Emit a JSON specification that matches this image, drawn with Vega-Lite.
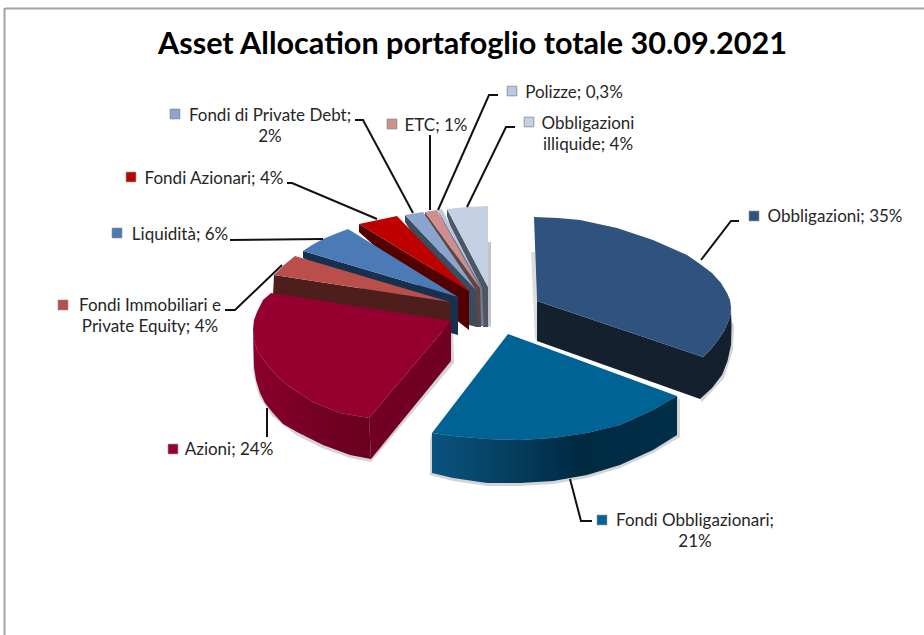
{
"$schema":"https://vega.github.io/schema/vega-lite/v6.json",
"width":924,"height":635,"padding":0,"autosize":{"type":"none"},
"background":"white",
"config":{"view":{"stroke":null}},
"title":{"text":"Asset Allocation portafoglio totale 30.09.2021","font":"Lato","fontSize":30.6,"fontWeight":"bold","color":"#000000","anchor":"start","frame":"group","dx":158,"dy":61,"offset":0},
"datasets":{
"frame":[{"k":"top","x":5,"y":8.5},{"k":"top","x":924,"y":8.5},{"k":"left","x":4.5,"y":8},{"k":"left","x":4.5,"y":635}],
"shapes":[
{"s":"ombra1","i":0,"x":531,"y":252},{"s":"ombra1","i":1,"x":535,"y":252},{"s":"ombra1","i":2,"x":538,"y":341},{"s":"ombra1","i":3,"x":535,"y":339},
{"s":"ombra2","i":0,"x":731,"y":320},{"s":"ombra2","i":1,"x":734,"y":325},{"s":"ombra2","i":2,"x":733,"y":350},{"s":"ombra2","i":3,"x":724,"y":378},{"s":"ombra2","i":4,"x":702,"y":402},{"s":"ombra2","i":5,"x":700,"y":399},{"s":"ombra2","i":6,"x":722,"y":375},
{"s":"ombra3","i":0,"x":488,"y":242},{"s":"ombra3","i":1,"x":491,"y":242},{"s":"ombra3","i":2,"x":491,"y":326},{"s":"ombra3","i":3,"x":488,"y":327},
{"s":"ombra4","i":0,"x":430,"y":440},{"s":"ombra4","i":1,"x":430,"y":475},{"s":"ombra4","i":2,"x":453,"y":481},{"s":"ombra4","i":3,"x":487,"y":486},{"s":"ombra4","i":4,"x":520,"y":486},{"s":"ombra4","i":5,"x":553,"y":484},{"s":"ombra4","i":6,"x":587,"y":478},{"s":"ombra4","i":7,"x":620,"y":468},{"s":"ombra4","i":8,"x":653,"y":453},{"s":"ombra4","i":9,"x":680,"y":437},{"s":"ombra4","i":10,"x":680,"y":400},{"s":"ombra4","i":11,"x":677,"y":396},{"s":"ombra4","i":12,"x":432,"y":433},
{"s":"ombra5","i":0,"x":253,"y":370},{"s":"ombra5","i":1,"x":256,"y":385},{"s":"ombra5","i":2,"x":259,"y":396},{"s":"ombra5","i":3,"x":272,"y":416},{"s":"ombra5","i":4,"x":296,"y":435},{"s":"ombra5","i":5,"x":322,"y":448},{"s":"ombra5","i":6,"x":350,"y":458},{"s":"ombra5","i":7,"x":371,"y":462},{"s":"ombra5","i":8,"x":454,"y":363},{"s":"ombra5","i":9,"x":453,"y":321},{"s":"ombra5","i":10,"x":253,"y":330},

{"s":"illiquide bordo","i":0,"x":447,"y":209},{"s":"illiquide bordo","i":1,"x":488,"y":287},{"s":"illiquide bordo","i":2,"x":488,"y":327},{"s":"illiquide bordo","i":3,"x":483,"y":327},{"s":"illiquide bordo","i":4,"x":447,"y":216},
{"s":"illiquide piano","i":0,"x":447,"y":209},{"s":"illiquide piano","i":1,"x":467,"y":207},{"s":"illiquide piano","i":2,"x":488,"y":206},{"s":"illiquide piano","i":3,"x":488,"y":287},
{"s":"polizze bordo","i":0,"x":438,"y":210},{"s":"polizze bordo","i":1,"x":482,"y":288},{"s":"polizze bordo","i":2,"x":484,"y":326},{"s":"polizze bordo","i":3,"x":480,"y":326},
{"s":"polizze piano","i":0,"x":438,"y":210},{"s":"polizze piano","i":1,"x":442,"y":209},{"s":"polizze piano","i":2,"x":482,"y":288},
{"s":"etc bordo","i":0,"x":425,"y":212},{"s":"etc bordo","i":1,"x":480,"y":288},{"s":"etc bordo","i":2,"x":481,"y":327},{"s":"etc bordo","i":3,"x":476,"y":327},{"s":"etc bordo","i":4,"x":425,"y":218},
{"s":"etc piano","i":0,"x":425,"y":212},{"s":"etc piano","i":1,"x":437,"y":210},{"s":"etc piano","i":2,"x":480,"y":288},
{"s":"debt bordo","i":0,"x":405,"y":215},{"s":"debt bordo","i":1,"x":476,"y":290},{"s":"debt bordo","i":2,"x":477,"y":327},{"s":"debt bordo","i":3,"x":469,"y":325},{"s":"debt bordo","i":4,"x":405,"y":222},
{"s":"debt piano","i":0,"x":405,"y":215},{"s":"debt piano","i":1,"x":423,"y":212},{"s":"debt piano","i":2,"x":476,"y":290},
{"s":"fazionari bordo","i":0,"x":359,"y":224},{"s":"fazionari bordo","i":1,"x":469,"y":291},{"s":"fazionari bordo","i":2,"x":469,"y":330},{"s":"fazionari bordo","i":3,"x":460,"y":323},{"s":"fazionari bordo","i":4,"x":359,"y":232},
{"s":"fazionari piano","i":0,"x":359,"y":224},{"s":"fazionari piano","i":1,"x":378,"y":220},{"s":"fazionari piano","i":2,"x":397,"y":216},{"s":"fazionari piano","i":3,"x":469,"y":291},
{"s":"liquidita bordo","i":0,"x":303,"y":251},{"s":"liquidita bordo","i":1,"x":458,"y":297},{"s":"liquidita bordo","i":2,"x":458,"y":335},{"s":"liquidita bordo","i":3,"x":440,"y":330},{"s":"liquidita bordo","i":4,"x":303,"y":258},
{"s":"liquidita piano","i":0,"x":303,"y":251},{"s":"liquidita piano","i":1,"x":312,"y":245},{"s":"liquidita piano","i":2,"x":323,"y":239},{"s":"liquidita piano","i":3,"x":335,"y":234},{"s":"liquidita piano","i":4,"x":348,"y":229},{"s":"liquidita piano","i":5,"x":458,"y":297},
{"s":"immobiliari bordo","i":0,"x":274,"y":275},{"s":"immobiliari bordo","i":1,"x":450,"y":302},{"s":"immobiliari bordo","i":2,"x":451,"y":325},{"s":"immobiliari bordo","i":3,"x":273,"y":296},
{"s":"immobiliari piano","i":0,"x":274,"y":275},{"s":"immobiliari piano","i":1,"x":284,"y":265},{"s":"immobiliari piano","i":2,"x":295,"y":256},{"s":"immobiliari piano","i":3,"x":450,"y":302},

{"s":"azioni esterno","i":0,"x":253,"y":330},{"s":"azioni esterno","i":0.5,"x":254,"y":340},{"s":"azioni esterno","i":1,"x":257,"y":350},{"s":"azioni esterno","i":1.5,"x":263,"y":359},{"s":"azioni esterno","i":2,"x":270,"y":368},{"s":"azioni esterno","i":2.5,"x":279,"y":378},{"s":"azioni esterno","i":3,"x":290,"y":387},{"s":"azioni esterno","i":4,"x":313,"y":402},{"s":"azioni esterno","i":5,"x":340,"y":413},{"s":"azioni esterno","i":6,"x":369,"y":418},{"s":"azioni esterno","i":7,"x":371,"y":459},{"s":"azioni esterno","i":8,"x":350,"y":455},{"s":"azioni esterno","i":9,"x":323,"y":445},{"s":"azioni esterno","i":10,"x":297,"y":432},{"s":"azioni esterno","i":10.5,"x":283,"y":424},{"s":"azioni esterno","i":11,"x":273,"y":413},{"s":"azioni esterno","i":11.5,"x":265,"y":403},{"s":"azioni esterno","i":12,"x":260,"y":393},{"s":"azioni esterno","i":12.5,"x":256,"y":380},{"s":"azioni esterno","i":13,"x":254,"y":367},
{"s":"azioni interno","i":0,"x":369,"y":418},{"s":"azioni interno","i":1,"x":451,"y":321},{"s":"azioni interno","i":2,"x":451,"y":361},{"s":"azioni interno","i":3,"x":371,"y":459},
{"s":"azioni piano","i":0,"x":271,"y":293},{"s":"azioni piano","i":1,"x":451,"y":321},{"s":"azioni piano","i":2,"x":369,"y":418},{"s":"azioni piano","i":3,"x":340,"y":413},{"s":"azioni piano","i":4,"x":313,"y":402},{"s":"azioni piano","i":5,"x":290,"y":387},{"s":"azioni piano","i":5.5,"x":279,"y":378},{"s":"azioni piano","i":6,"x":270,"y":368},{"s":"azioni piano","i":6.5,"x":263,"y":359},{"s":"azioni piano","i":7,"x":257,"y":350},{"s":"azioni piano","i":7.5,"x":254,"y":340},{"s":"azioni piano","i":8,"x":253,"y":330},{"s":"azioni piano","i":8.5,"x":254,"y":320},{"s":"azioni piano","i":9,"x":257,"y":312},{"s":"azioni piano","i":10,"x":263,"y":300},

{"s":"obbligazioni bordo","i":0,"x":537,"y":301},{"s":"obbligazioni bordo","i":1,"x":703,"y":357},{"s":"obbligazioni bordo","i":1.5,"x":711,"y":349},{"s":"obbligazioni bordo","i":2,"x":718,"y":340},{"s":"obbligazioni bordo","i":2.5,"x":724,"y":331},{"s":"obbligazioni bordo","i":3,"x":728,"y":322},{"s":"obbligazioni bordo","i":3.5,"x":730.5,"y":315},{"s":"obbligazioni bordo","i":4,"x":731,"y":307},{"s":"obbligazioni bordo","i":4.5,"x":731.5,"y":327},{"s":"obbligazioni bordo","i":5,"x":731,"y":345},{"s":"obbligazioni bordo","i":5.5,"x":727.5,"y":361},{"s":"obbligazioni bordo","i":6,"x":722,"y":375},{"s":"obbligazioni bordo","i":6.5,"x":712,"y":388},{"s":"obbligazioni bordo","i":7,"x":700,"y":399},{"s":"obbligazioni bordo","i":8,"x":537,"y":341},
{"s":"obbligazioni piano","i":0,"x":534,"y":217},{"s":"obbligazioni piano","i":1,"x":558,"y":218},{"s":"obbligazioni piano","i":2,"x":580,"y":220},{"s":"obbligazioni piano","i":3,"x":617,"y":228},{"s":"obbligazioni piano","i":4,"x":653,"y":240},{"s":"obbligazioni piano","i":5,"x":687,"y":255},{"s":"obbligazioni piano","i":5.5,"x":700,"y":264},{"s":"obbligazioni piano","i":6,"x":712,"y":273},{"s":"obbligazioni piano","i":6.5,"x":721,"y":283},{"s":"obbligazioni piano","i":7,"x":727,"y":293},{"s":"obbligazioni piano","i":7.5,"x":730,"y":300},{"s":"obbligazioni piano","i":8,"x":731,"y":307},{"s":"obbligazioni piano","i":8.5,"x":730.5,"y":315},{"s":"obbligazioni piano","i":9,"x":728,"y":322},{"s":"obbligazioni piano","i":9.5,"x":724,"y":331},{"s":"obbligazioni piano","i":10,"x":718,"y":340},{"s":"obbligazioni piano","i":10.5,"x":711,"y":349},{"s":"obbligazioni piano","i":11,"x":703,"y":357},{"s":"obbligazioni piano","i":12,"x":537,"y":301},

{"s":"fobbligazionari bordo","i":0,"x":432,"y":433},{"s":"fobbligazionari bordo","i":1,"x":432,"y":473},{"s":"fobbligazionari bordo","i":2,"x":453,"y":478},{"s":"fobbligazionari bordo","i":3,"x":487,"y":483},{"s":"fobbligazionari bordo","i":4,"x":520,"y":483},{"s":"fobbligazionari bordo","i":5,"x":553,"y":481},{"s":"fobbligazionari bordo","i":6,"x":587,"y":475},{"s":"fobbligazionari bordo","i":7,"x":620,"y":465},{"s":"fobbligazionari bordo","i":8,"x":653,"y":450},{"s":"fobbligazionari bordo","i":9,"x":677,"y":435},{"s":"fobbligazionari bordo","i":10,"x":677,"y":396},{"s":"fobbligazionari bordo","i":11,"x":653,"y":410},{"s":"fobbligazionari bordo","i":12,"x":620,"y":425},{"s":"fobbligazionari bordo","i":13,"x":587,"y":433},{"s":"fobbligazionari bordo","i":14,"x":553,"y":438},{"s":"fobbligazionari bordo","i":15,"x":520,"y":440},{"s":"fobbligazionari bordo","i":16,"x":487,"y":439},{"s":"fobbligazionari bordo","i":17,"x":453,"y":436},
{"s":"fobbligazionari piano","i":0,"x":508,"y":334},{"s":"fobbligazionari piano","i":1,"x":677,"y":396},{"s":"fobbligazionari piano","i":2,"x":653,"y":410},{"s":"fobbligazionari piano","i":3,"x":620,"y":425},{"s":"fobbligazionari piano","i":4,"x":587,"y":433},{"s":"fobbligazionari piano","i":5,"x":553,"y":438},{"s":"fobbligazionari piano","i":6,"x":520,"y":440},{"s":"fobbligazionari piano","i":7,"x":487,"y":439},{"s":"fobbligazionari piano","i":8,"x":453,"y":436},{"s":"fobbligazionari piano","i":9,"x":432,"y":433}
],
"leaders":[
{"c":"Obbligazioni","i":0,"x":701,"y":260},{"c":"Obbligazioni","i":1,"x":731,"y":221},{"c":"Obbligazioni","i":2,"x":739,"y":221},
{"c":"Fondi Obbligazionari","i":0,"x":570,"y":479},{"c":"Fondi Obbligazionari","i":1,"x":581,"y":521},{"c":"Fondi Obbligazionari","i":2,"x":592,"y":521},
{"c":"Azioni","i":0,"x":267,"y":408},{"c":"Azioni","i":1,"x":267,"y":437},
{"c":"Fondi Immobiliari","i":0,"x":282,"y":265},{"c":"Fondi Immobiliari","i":1,"x":235,"y":310},{"c":"Fondi Immobiliari","i":2,"x":225,"y":310},
{"c":"Liquidità","i":0,"x":323,"y":239},{"c":"Liquidità","i":1,"x":230,"y":240},
{"c":"Fondi Azionari","i":0,"x":377,"y":219},{"c":"Fondi Azionari","i":1,"x":292,"y":183},{"c":"Fondi Azionari","i":2,"x":287,"y":183},
{"c":"Private Debt","i":0,"x":413,"y":213},{"c":"Private Debt","i":1,"x":363,"y":120},{"c":"Private Debt","i":2,"x":355,"y":120},
{"c":"ETC","i":0,"x":430,"y":210},{"c":"ETC","i":1,"x":430,"y":135},
{"c":"Polizze","i":0,"x":438,"y":210},{"c":"Polizze","i":1,"x":489,"y":95},{"c":"Polizze","i":2,"x":498,"y":95},
{"c":"Illiquide","i":0,"x":467,"y":207},{"c":"Illiquide","i":1,"x":506,"y":127},{"c":"Illiquide","i":2,"x":515,"y":127}
],
"labels":[
{"voce":"Obbligazioni","testo":"Obbligazioni; 35%","x":835,"y":222,"mx":754,"my":216},
{"voce":"Fondi Obbligazionari","testo":"Fondi Obbligazionari;\n21%","x":695,"y":526,"mx":602,"my":520},
{"voce":"Azioni","testo":"Azioni; 24%","x":229,"y":455,"mx":173,"my":449},
{"voce":"Fondi Immobiliari e Private Equity","testo":"Fondi Immobiliari e\nPrivate Equity; 4%","x":150,"y":311,"mx":63,"my":305},
{"voce":"Liquidità","testo":"Liquidità; 6%","x":180,"y":240,"mx":117,"my":233},
{"voce":"Fondi Azionari","testo":"Fondi Azionari; 4%","x":214,"y":184,"mx":131,"my":177},
{"voce":"Fondi di Private Debt","testo":"Fondi di Private Debt;\n2%","x":270,"y":121,"mx":175,"my":114},
{"voce":"ETC","testo":"ETC; 1%","x":436,"y":131,"mx":392,"my":124},
{"voce":"Polizze","testo":"Polizze; 0,3%","x":574,"y":98,"mx":512,"my":91},
{"voce":"Obbligazioni illiquide","testo":"Obbligazioni\nilliquide; 4%","x":588,"y":129,"mx":529,"my":122}
]
},
"layer":[
{"data":{"name":"frame"},"mark":{"type":"line","stroke":"#a3a3a3","strokeWidth":2},
 "encoding":{"x":{"field":"x","type":"quantitative","scale":{"domain":[0,924],"nice":false,"zero":false},"axis":null},"y":{"field":"y","type":"quantitative","scale":{"domain":[635,0],"nice":false,"zero":false},"axis":null},"detail":{"field":"k"}}},
{"data":{"name":"shapes"},"transform":[{"filter":{"not":{"field":"s","oneOf":["azioni esterno","fobbligazionari bordo"]}}}],"mark":{"type":"line","strokeOpacity":0,"interpolate":"linear-closed"},
 "encoding":{"x":{"field":"x","type":"quantitative"},"y":{"field":"y","type":"quantitative"},"order":{"field":"i","type":"quantitative"},
  "fill":{"field":"s","type":"nominal","legend":null,"scale":{
   "domain":["ombra1","ombra2","ombra3","ombra4","ombra5","illiquide bordo","illiquide piano","polizze bordo","polizze piano","etc bordo","etc piano","debt bordo","debt piano","fazionari bordo","fazionari piano","liquidita bordo","liquidita piano","immobiliari bordo","immobiliari piano","azioni interno","azioni piano","obbligazioni bordo","obbligazioni piano","fobbligazionari piano"],
   "range":["#dcdcdc","#d4d4d4","#c4c4c4","#d4d4d4","#d4d4d4","#4d5663","#c4d0e3","#6f7c8f","#b9c8e2","#5e4646","#d08e8c","#3b4b60","#8aa6cf","#520000","#bf0000","#17304e","#4a7bb6","#4e1e1c","#b94e4a","#720024","#960030","#15202f","#30527f","#006395"]}}}},
{"data":{"name":"shapes"},"transform":[{"filter":{"field":"s","equal":"azioni esterno"}}],"mark":{"type":"line","strokeOpacity":0,"interpolate":"linear-closed","fill":{"gradient":"linear","x1":0,"y1":0,"x2":1,"y2":0,"stops":[{"offset":0,"color":"#8a002c"},{"offset":0.5,"color":"#760026"},{"offset":1,"color":"#660020"}]}},
 "encoding":{"x":{"field":"x","type":"quantitative"},"y":{"field":"y","type":"quantitative"},"order":{"field":"i","type":"quantitative"}}},
{"data":{"name":"shapes"},"transform":[{"filter":{"field":"s","equal":"fobbligazionari bordo"}}],"mark":{"type":"line","strokeOpacity":0,"interpolate":"linear-closed","fill":{"gradient":"linear","x1":0,"y1":0,"x2":1,"y2":0,"stops":[{"offset":0,"color":"#0a5480"},{"offset":0.6,"color":"#002a42"},{"offset":1,"color":"#002f49"}]}},
 "encoding":{"x":{"field":"x","type":"quantitative"},"y":{"field":"y","type":"quantitative"},"order":{"field":"i","type":"quantitative"}}},
{"data":{"name":"leaders"},"mark":{"type":"line","stroke":"#111111","strokeWidth":2},
 "encoding":{"x":{"field":"x","type":"quantitative"},"y":{"field":"y","type":"quantitative"},"detail":{"field":"c"},"order":{"field":"i","type":"quantitative"}}},
{"data":{"name":"labels"},"mark":{"type":"point","shape":"square","filled":true,"size":95,"opacity":1,"stroke":"#6f6f6f","strokeWidth":0.6},
 "encoding":{"x":{"field":"mx","type":"quantitative"},"y":{"field":"my","type":"quantitative"},
  "fill":{"field":"voce","type":"nominal","legend":null,"scale":{"domain":["Obbligazioni","Fondi Obbligazionari","Azioni","Fondi Immobiliari e Private Equity","Liquidità","Fondi Azionari","Fondi di Private Debt","ETC","Polizze","Obbligazioni illiquide"],"range":["#30527f","#006395","#960030","#b94e4a","#4a7bb6","#bf0000","#8aa6cf","#d08e8c","#b9c8e2","#c4d0e3"]}}}},
{"data":{"name":"labels"},"mark":{"type":"text","font":"Lato","fontSize":17,"color":"#262626","align":"center","baseline":"alphabetic","lineBreak":"\n","lineHeight":21},
 "encoding":{"x":{"field":"x","type":"quantitative"},"y":{"field":"y","type":"quantitative"},"text":{"field":"testo","type":"nominal"}}}
],
"resolve":{"scale":{"fill":"independent"}}
}
